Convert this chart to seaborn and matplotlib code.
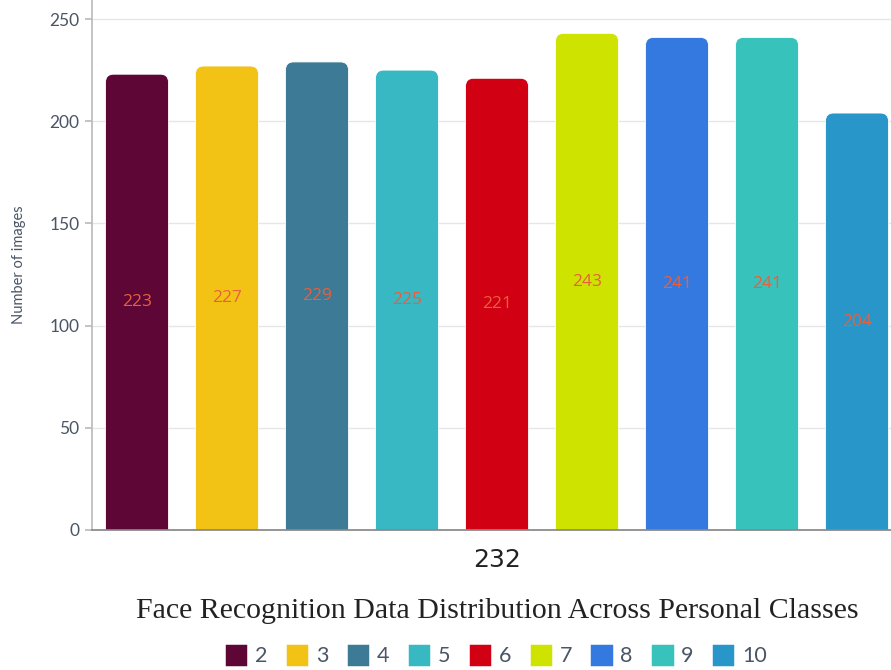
import matplotlib

matplotlib.use("Agg")
import matplotlib.pyplot as plt
import pandas as pd
import seaborn as sns
from matplotlib.patches import FancyBboxPatch, Patch

classes = ["2", "3", "4", "5", "6", "7", "8", "9", "10"]
counts = [223, 227, 229, 225, 221, 243, 241, 241, 204]
colors = ["#5E0635", "#F2C314", "#3C7A96", "#37B8C3", "#D10012",
          "#CFE300", "#3479E0", "#37C2BC", "#2896C8"]
yticks = [0, 50, 100, 150, 200, 250]

sns.set_theme(style="white")
plt.rcParams["font.family"] = ["Lato", "DejaVu Sans"]

df = pd.DataFrame({"cls": classes, "count": counts})

fig = plt.figure(figsize=(8.91, 6.70), dpi=100)
ax = fig.add_axes([92 / 891, 1 - 530 / 670, 810 / 891, 530 / 670])

sns.barplot(data=df, x="cls", y="count", hue="cls", palette=colors,
            saturation=1, width=0.7, legend=False, ax=ax, zorder=2)

# label each bar at its middle, then swap the square bars for rounded-top ones
for cont in ax.containers:
    ax.bar_label(cont, label_type="center", color="#E8603C", fontsize=12.5,
                 family=["Open Sans", "DejaVu Sans"], zorder=3)

for bar in list(ax.patches):
    x, w, h = bar.get_x(), bar.get_width(), bar.get_height()
    c = bar.get_facecolor()
    bar.set_visible(False)
    rounded = FancyBboxPatch((x, -10), w, h + 10,
                             boxstyle="round,pad=0,rounding_size=0.09",
                             mutation_aspect=44, facecolor=c,
                             edgecolor="white", linewidth=0.6, zorder=2)
    ax.add_patch(rounded)

ax.set_ylim(0, 259.3)
ax.set_xlim(-0.5, 8.5)
ax.set_yticks(yticks)
ax.yaxis.grid(True, color="#E6E6E6", linewidth=1, zorder=0)
ax.set_axisbelow(True)
ax.tick_params(axis="y", left=True, length=5, color="#BBBBBB",
               labelsize=12.5, labelcolor="#4A5566", pad=4)
ax.tick_params(axis="x", bottom=False, labelbottom=False)
for side in ["top", "right"]:
    ax.spines[side].set_visible(False)
ax.spines["left"].set_color("#BBBBBB")
ax.spines["bottom"].set_color("#888888")

ax.set_ylabel("Number of images", fontsize=10.5, color="#4A5566", labelpad=17)
ax.set_xlabel("232", fontsize=18, color="#222222",
              family=["DejaVu Sans"], labelpad=13)

cx = (92 + 405) / 891
fig.text(cx, 1 - 611 / 670, "Face Recognition Data Distribution Across Personal Classes",
         ha="center", va="center", fontsize=21.5, color="#222222",
         family=["Liberation Serif", "DejaVu Serif"])

handles = [Patch(facecolor=c, edgecolor=c, linewidth=2.5, joinstyle="round")
           for c in colors]
fig.legend(handles, classes, loc="center", bbox_to_anchor=(cx, 1 - 656 / 670),
           ncol=len(classes), frameon=False, fontsize=15.5, handlelength=0.85,
           handleheight=0.9, handletextpad=0.45, columnspacing=0.95,
           labelcolor="#4A5566")

fig.savefig("out.png", dpi=100)
